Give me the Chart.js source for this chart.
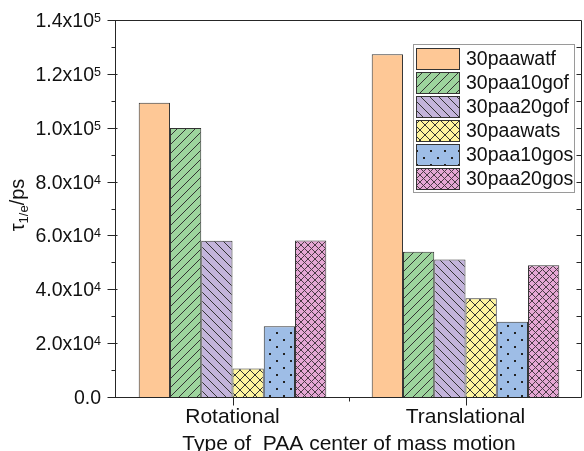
<!DOCTYPE html>
<html>
<head>
<meta charset="utf-8">
<script src="https://cdn.jsdelivr.net/npm/chart.js@4.4.0/dist/chart.umd.min.js"></script>
<style>
  html, body { margin: 0; padding: 0; background: #fff; overflow: hidden; }
  #wrap { position: relative; width: 584px; height: 451px; }
</style>
</head>
<body>
<div id="wrap"><canvas id="chart" width="584" height="451"></canvas></div>
<script>
// data
const categories = ['Rotational', 'Translational'];
const seriesNames = ['30paawatf', '30paa10gof', '30paa20gof', '30paawats', '30paa10gos', '30paa20gos'];
const paawatf   = [109300, 127300];
const paa10gof  = [99900, 53900];
const paa20gof  = [58000, 51100];
const paawats   = [10600, 36700];
const paa10gos  = [26300, 27900];
const paa20gos  = [58100, 48900];
const yTickValues = [0, 20000, 40000, 60000, 80000, 100000, 120000, 140000];

const FONT = "'Liberation Sans', Arial, sans-serif";
const INK = '#262626';

function makePattern(bg, kind){
  const sizes = { solid: 8, fwd: 9, back: 9, cross: 10, dots: 14, mesh: 7 };
  const s = sizes[kind];
  const c = document.createElement('canvas');
  c.width = s; c.height = s;
  const g = c.getContext('2d');
  g.fillStyle = bg;
  g.fillRect(0, 0, s, s);
  g.strokeStyle = kind === 'mesh' ? '#4a3a45' : '#333';
  g.fillStyle = '#222';
  g.lineWidth = 1;
  const fwd = () => {
    g.beginPath();
    g.moveTo(-1, s + 1); g.lineTo(s + 1, -1);
    g.moveTo(-1, 1); g.lineTo(1, -1);
    g.moveTo(s - 1, s + 1); g.lineTo(s + 1, s - 1);
    g.stroke();
  };
  const back = () => {
    g.beginPath();
    g.moveTo(-1, -1); g.lineTo(s + 1, s + 1);
    g.moveTo(s - 1, -1); g.lineTo(s + 1, 1);
    g.moveTo(-1, s - 1); g.lineTo(1, s + 1);
    g.stroke();
  };
  if (kind === 'fwd') fwd();
  if (kind === 'back') back();
  if (kind === 'cross' || kind === 'mesh') { fwd(); back(); }
  if (kind === 'dots') { g.fillRect(3, 3, 2, 2); g.fillRect(10, 10, 2, 2); }
  return g.createPattern(c, 'repeat');
}

const seriesData = [paawatf, paa10gof, paa20gof, paawats, paa10gos, paa20gos];
const seriesColors = ['#FEC896', '#9DD49D', '#C3B4DB', '#FFF59E', '#9EBDE6', '#E5A7D4'];
const seriesKinds = ['solid', 'fwd', 'back', 'cross', 'dots', 'mesh'];

const datasets = seriesNames.map((name, i) => ({
  label: name,
  data: seriesData[i],
  backgroundColor: makePattern(seriesColors[i], seriesKinds[i]),
  borderColor: '#333',
  borderWidth: 1,
  borderSkipped: 'start',
  categoryPercentage: 0.805,
  barPercentage: 1.0
}));

function supLabel(v){
  if (v === 0) return { base: '0.0', exp: '' };
  const e = Math.floor(Math.log10(v));
  return { base: (v / Math.pow(10, e)).toFixed(1) + 'x10', exp: String(e) };
}

// frame, ticks, y labels, y title, legend
const decor = {
  id: 'decor',
  afterDatasetsDraw(chart){
    const { ctx, chartArea: a, scales: { x, y } } = chart;
    ctx.save();
    ctx.strokeStyle = INK;
    ctx.lineWidth = 1;
    const L = Math.round(a.left) - 0.5, R = Math.round(a.right) - 0.5;
    const T = Math.round(a.top) + 0.5, B = Math.round(a.bottom) + 0.5;
    ctx.beginPath();
    ctx.moveTo(L, T); ctx.lineTo(R, T); ctx.lineTo(R, B); ctx.lineTo(L, B); ctx.closePath();
    // y ticks
    for (let v = 0; v <= 140000; v += 10000){
      const py = Math.round(y.getPixelForValue(v)) + 0.5;
      const major = v % 20000 === 0;
      ctx.moveTo(L - (major ? 8 : 4), py); ctx.lineTo(L + (major ? 2 : 0), py);
      if (v > 0 && v < 140000){ ctx.moveTo(R, py); ctx.lineTo(R - 5, py); }
    }
    // x ticks
    categories.forEach((c, i) => {
      const px = Math.round(x.getPixelForValue(i)) + 0.5;
      ctx.moveTo(px, B); ctx.lineTo(px, B + 8);
      if (i > 0){
        const mx = Math.round((x.getPixelForValue(i) + x.getPixelForValue(i - 1)) / 2) + 0.5;
        ctx.moveTo(mx, B); ctx.lineTo(mx, B + 4);
      }
    });
    ctx.stroke();

    // y tick labels with superscripts
    ctx.fillStyle = '#111';
    ctx.textBaseline = 'alphabetic';
    ctx.textAlign = 'right';
    yTickValues.forEach(v => {
      const py = y.getPixelForValue(v);
      const lab = supLabel(v);
      let xr = 101;
      if (lab.exp){
        ctx.font = '12.5px ' + FONT;
        ctx.fillText(lab.exp, xr, py + 2);
        xr -= ctx.measureText(lab.exp).width;
      }
      ctx.font = '19.5px ' + FONT;
      ctx.fillText(lab.base, xr, py + 7);
    });

    // y title: tau_{1/e}/ps
    ctx.save();
    ctx.translate(24, 205);
    ctx.rotate(-Math.PI / 2);
    ctx.textAlign = 'left';
    const parts = [
      { t: '\u03C4', f: '20px', dy: 0 },
      { t: '1/e', f: '13px', dy: 4 },
      { t: '/ps', f: '20px', dy: 0 }
    ];
    let total = 0;
    parts.forEach(p => { ctx.font = p.f + ' ' + FONT; p.w = ctx.measureText(p.t).width; total += p.w; });
    let cx = -total / 2;
    parts.forEach(p => { ctx.font = p.f + ' ' + FONT; ctx.fillText(p.t, cx, p.dy); cx += p.w; });
    ctx.restore();

    // legend
    const lx = 413.5, ly = 44.5, lw = 161, lh = 148;
    ctx.fillStyle = '#fff';
    ctx.fillRect(lx, ly, lw, lh);
    ctx.strokeStyle = '#9a9a9a';
    ctx.strokeRect(lx, ly, lw, lh);
    chart.data.datasets.forEach((ds, i) => {
      const sy = 48.5 + 24 * i;
      ctx.fillStyle = ds.backgroundColor;
      ctx.fillRect(416.5, sy, 43, 21);
      ctx.strokeStyle = '#333';
      ctx.strokeRect(416.5, sy, 43, 21);
      ctx.fillStyle = '#111';
      ctx.font = '19.5px ' + FONT;
      ctx.textAlign = 'left';
      ctx.textBaseline = 'middle';
      ctx.fillText(ds.label, 466, sy + 11);
    });
    ctx.restore();
  }
};

new Chart(document.getElementById('chart'), {
  type: 'bar',
  data: { labels: categories, datasets },
  options: {
    responsive: false,
    animation: false,
    layout: { padding: { left: 0, right: 2, top: 20, bottom: 0 } },
    plugins: { legend: { display: false }, tooltip: { enabled: false } },
    scales: {
      x: {
        offset: true,
        grid: { display: false, drawTicks: false },
        border: { display: false },
        ticks: { padding: 8, color: '#111', font: { family: FONT, size: 21 } },
        title: {
          display: true,
          text: 'Type of  PAA center of mass motion',
          color: '#111',
          font: { family: FONT, size: 21 },
          padding: { top: 0, bottom: -6 }
        },
        afterFit(s){ s.height = 54; }
      },
      y: {
        min: 0, max: 140000,
        grid: { display: false, drawTicks: false },
        border: { display: false },
        ticks: { display: false, stepSize: 20000 },
        afterFit(s){ s.width = 116; }
      }
    }
  },
  plugins: [decor]
});
</script>
</body>
</html>
